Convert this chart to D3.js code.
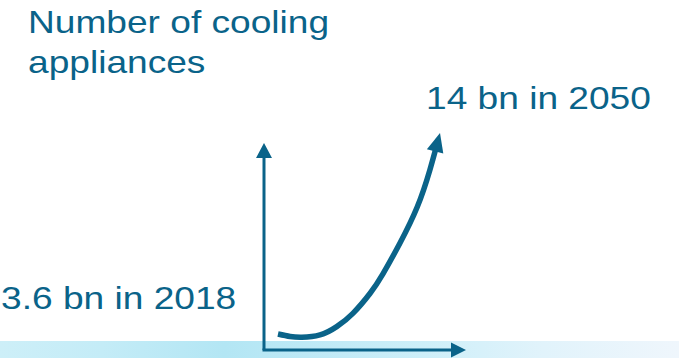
<!DOCTYPE html>
<html>
<head>
<meta charset="utf-8">
<script src="https://cdn.jsdelivr.net/npm/d3@7"></script>
<style>
  html, body { margin: 0; padding: 0; background: #ffffff; }
  svg { display: block; }
  text { font-family: "Liberation Sans", Arial, sans-serif; }
</style>
</head>
<body>
<svg id="chart" width="679" height="358"></svg>
<script>
// Growth of cooling appliances (billions of units), 2018 to 2050
const years  = [2018, 2020.4, 2022.7, 2026.3, 2029.6, 2032.8, 2036.2, 2038.7, 2042.1, 2045.5, 2048.0, 2050];
const values = [3.6,  3.47,   3.43,   3.55,   3.98,   4.67,   5.71,   6.7,    8.31,   10.17,  12.09,  14.0];

const titleLines = ["Number of cooling", "appliances"];
const startLabel = "3.6 bn in 2018";
const endLabel   = "14 bn in 2050";

const W = 679, H = 358;
const ink = "#0a6389";

const svg = d3.select("#chart");
const defs = svg.append("defs");

// pale watercolour band along the bottom
const grad = defs.append("linearGradient").attr("id", "band").attr("x1", "0%").attr("x2", "100%");
[["0%", "#cdeff8"], ["15%", "#c4ecf7"], ["33%", "#b3e6f4"], ["45%", "#bde9f6"],
 ["62%", "#cdeff9"], ["80%", "#e1f3fb"], ["100%", "#eff6fc"]]
  .forEach(([o, c]) => grad.append("stop").attr("offset", o).attr("stop-color", c));

svg.append("rect").attr("x", 0).attr("y", 341).attr("width", W).attr("height", H - 341)
  .attr("fill", "url(#band)");

// scales for the growth curve
const x = d3.scaleLinear().domain([2018, 2050]).range([278, 440]);
const y = d3.scaleLinear().domain([3.6, 14]).range([334, 133]);

// axes frame
const origin = { x: 264, y: 350 };
const yTop = 143, xRight = 466;

svg.append("line")
  .attr("x1", origin.x).attr("y1", origin.y).attr("x2", origin.x).attr("y2", yTop + 14)
  .attr("stroke", ink).attr("stroke-width", 3);
svg.append("path")
  .attr("d", `M${origin.x},${yTop} L${origin.x - 8},${yTop + 15} L${origin.x + 8},${yTop + 15} Z`)
  .attr("fill", ink);

svg.append("line")
  .attr("x1", origin.x - 1.5).attr("y1", origin.y).attr("x2", xRight - 14).attr("y2", origin.y)
  .attr("stroke", ink).attr("stroke-width", 3);
svg.append("path")
  .attr("d", `M${xRight},${origin.y} L${xRight - 15},${origin.y - 7.5} L${xRight - 15},${origin.y + 7.5} Z`)
  .attr("fill", ink);

// growth curve with arrowhead at the 2050 value
const pts = years.map((yr, i) => [x(yr), y(values[i])]);
const line = d3.line().curve(d3.curveNatural);

const curve = svg.append("path")
  .attr("d", line(pts))
  .attr("fill", "none")
  .attr("stroke", ink)
  .attr("stroke-width", 5.5);

const L = curve.node().getTotalLength();
const headLen = 19, headHalf = 8.5;
curve.attr("stroke-dasharray", `${L - headLen + 2} ${L}`);

const tip = curve.node().getPointAtLength(L);
const base = curve.node().getPointAtLength(L - headLen);
const dx = tip.x - base.x, dy = tip.y - base.y;
const len = Math.hypot(dx, dy);
const ux = dx / len, uy = dy / len;
const bx = tip.x - ux * headLen, by = tip.y - uy * headLen;
svg.append("path")
  .attr("d", `M${tip.x},${tip.y} L${bx - uy * headHalf},${by + ux * headHalf} L${bx + uy * headHalf},${by - ux * headHalf} Z`)
  .attr("fill", ink);

// labels
const fs = 32, sx = 1.16;
function label(txt, tx, ty) {
  svg.append("text")
    .attr("transform", `translate(${tx},${ty}) scale(${sx},1)`)
    .attr("font-size", fs)
    .attr("fill", ink)
    .text(txt);
}
label(titleLines[0], 28, 33);
label(titleLines[1], 28, 73);
label(endLabel, 426, 109);
label(startLabel, 1, 309);
</script>
</body>
</html>
